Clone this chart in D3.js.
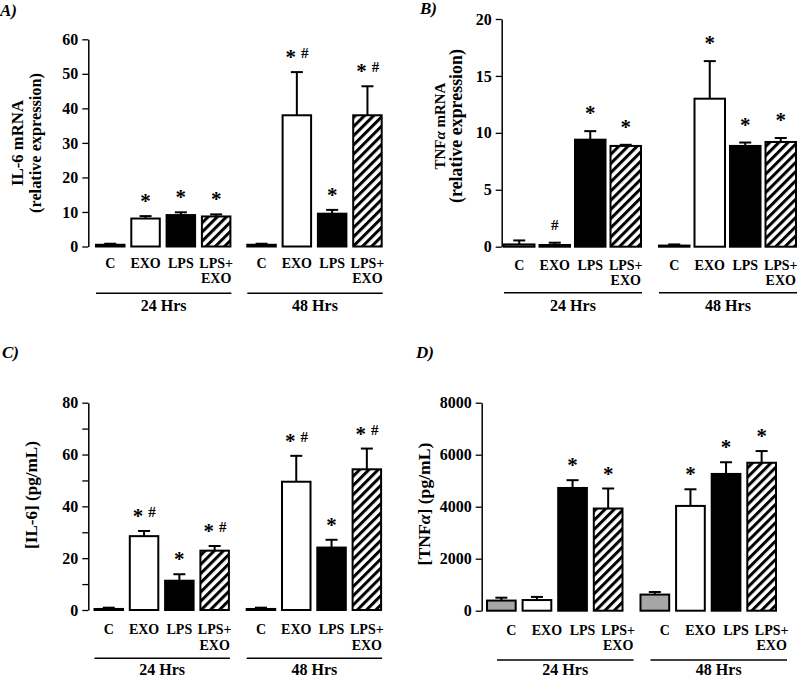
<!DOCTYPE html>
<html>
<head>
<meta charset="utf-8">
<script src="https://cdn.jsdelivr.net/npm/d3@7"></script>
<style>
  html, body { margin: 0; padding: 0; background: #fff; }
  svg { display: block; }
  text { font-family: "Liberation Serif", "Times New Roman", serif; font-weight: bold; fill: #000; }
</style>
</head>
<body>
<svg id="chart" width="800" height="677"></svg>
<script>
// ---------------- data ----------------
const conditions = ["C", "EXO", "LPS", "LPS+EXO"];
const timepoints = ["24 Hrs", "48 Hrs"];

// Panel A: IL-6 mRNA (relative expression)
const il6mRNA      = [0.5, 8.1, 9.1, 8.7, 0.5, 38.0, 9.5, 38.0];
const il6mRNAErr   = [0.3, 0.7, 0.8, 0.6, 0.3, 12.5, 1.1, 8.4];
const il6mRNASig   = ["", "*", "*", "*", "", "* #", "*", "* #"];
const il6mRNATicks = [0, 10, 20, 30, 40, 50, 60];

// Panel B: TNFα mRNA (relative expression)
const tnfmRNA      = [0.2, 0.15, 9.4, 8.85, 0.1, 13.0, 8.85, 9.2];
const tnfmRNAErr   = [0.35, 0.2, 0.75, 0.1, 0.1, 3.3, 0.3, 0.35];
const tnfmRNASig   = ["", "#", "*", "*", "", "*", "*", "*"];
const tnfmRNATicks = [0, 5, 10, 15, 20];

// Panel C: [IL-6] (pg/mL)
const il6Prot      = [0.4, 28.5, 11.3, 22.9, 0.4, 49.5, 24.1, 54.3];
const il6ProtErr   = [0.5, 2.0, 2.5, 1.8, 0.5, 10.0, 3.0, 8.0];
const il6ProtSig   = ["", "* #", "*", "* #", "", "* #", "*", "* #"];
const il6ProtTicks = [0, 10, 20, 30, 40, 50, 60, 70, 80];
const il6ProtTickLabels = ["0", "", "20", "", "40", "", "60", "", "80"];

// Panel D: [TNFα] (pg/mL)
const tnfProt      = [390, 410, 4720, 3930, 620, 4030, 5260, 5690];
const tnfProtErr   = [110, 120, 300, 770, 100, 640, 450, 450];
const tnfProtSig   = ["", "", "*", "*", "", "*", "*", "*"];
const tnfProtTicks = [0, 2000, 4000, 6000, 8000];

// ---------------- layout ----------------
const panels = [
  { label: "A)", labelPos: [0, 16], titleLines: ["IL-6 mRNA", "(relative expression)"], titleX: [22.5, 41], titleCY: 143, titleW: [86, 140],
    values: il6mRNA, errors: il6mRNAErr, sig: il6mRNASig, ticks: il6mRNATicks, tickLabels: null, yMax: 60,
    axisX: 88.3, y0: 246.5, yTop: 39.3, x0: 96, S: 151.3, s: 35.3, w: 28.5, shift: 0,
    catY1: 268, catY2: 283, lineY: 293.3, grpY: 310.5, sigGap: 10 },
  { label: "B)", labelPos: [420, 14], titleLines: ["TNFα mRNA", "(relative expression)"], titleX: [445, 462], titleCY: 126, titleW: [87, 154],
    values: tnfmRNA, errors: tnfmRNAErr, sig: tnfmRNASig, ticks: tnfmRNATicks, tickLabels: null, yMax: 20,
    axisX: 501.7, y0: 246.7, yTop: 19, x0: 504, S: 155, s: 35.5, w: 30.5, shift: 0,
    catY1: 269.5, catY2: 284.5, lineY: 292.7, grpY: 310.5, sigGap: 13 },
  { label: "C)", labelPos: [2, 358], titleLines: ["[IL-6] (pg/mL)"], titleX: [37], titleCY: 495, titleW: [108],
    values: il6Prot, errors: il6ProtErr, sig: il6ProtSig, ticks: il6ProtTicks, tickLabels: il6ProtTickLabels, yMax: 80,
    axisX: 88.3, y0: 610, yTop: 402.7, x0: 94.5, S: 152.2, s: 35.3, w: 28.5, shift: 0,
    catY1: 634, catY2: 649.5, lineY: 658.3, grpY: 674.5, sigGap: 10 },
  { label: "D)", labelPos: [416, 358], titleLines: ["[TNFα] (pg/mL)"], titleX: [430], titleCY: 504, titleW: [123],
    values: tnfProt, errors: tnfProtErr, sig: tnfProtSig, ticks: tnfProtTicks, tickLabels: null, yMax: 8000,
    axisX: 481.7, y0: 610.7, yTop: 402.7, x0: 487, S: 153.5, s: 35.6, w: 28.7, shift: 10,
    catY1: 634.5, catY2: 649.5, lineY: 660, grpY: 674.5, sigGap: 10 }
];

const svg = d3.select("#chart");
const defs = svg.append("defs");
const pat = defs.append("pattern").attr("id", "hatch")
  .attr("patternUnits", "userSpaceOnUse").attr("width", 6.5).attr("height", 6.5)
  .attr("patternTransform", "rotate(45)");
pat.append("rect").attr("width", 6.5).attr("height", 6.5).attr("fill", "#fff");
pat.append("rect").attr("width", 3).attr("height", 6.5).attr("fill", "#000");

const fillFor = { "C": "#a6a6a6", "EXO": "#ffffff", "LPS": "#000000", "LPS+EXO": "url(#hatch)" };

function addRichText(sel, str) {
  const parts = str.split("α");
  parts.forEach((p, i) => {
    if (p) sel.append("tspan").text(p);
    if (i < parts.length - 1) sel.append("tspan").attr("font-style", "italic").text("α");
  });
}

panels.forEach(P => {
  const g = svg.append("g");

  // panel label
  g.append("text").attr("x", P.labelPos[0]).attr("y", P.labelPos[1])
    .attr("font-size", 17).attr("font-style", "italic").text(P.label);

  // y scale + axis
  const y = d3.scaleLinear().domain([0, P.yMax]).range([P.y0, P.yTop]);
  const axis = d3.axisLeft(y).tickValues(P.ticks).tickSize(6).tickSizeOuter(0).tickPadding(4)
    .tickFormat((d, i) => P.tickLabels ? P.tickLabels[i] : d3.format("d")(d));
  const ag = g.append("g").attr("transform", `translate(${P.axisX},0)`).call(axis);
  ag.selectAll("path.domain").attr("stroke", "#000").attr("stroke-width", 1.5);
  ag.selectAll(".tick line").attr("stroke", "#000").attr("stroke-width", 1.3);
  ag.selectAll(".tick text").attr("font-family", "Liberation Serif").attr("font-weight", "bold")
    .attr("font-size", 16).attr("fill", "#000");

  // title (rotated), sized to the reference's length
  P.titleLines.forEach((t, i) => {
    const tx = g.append("text")
      .attr("transform", `translate(${P.titleX[i]},${P.titleCY}) rotate(-90)`)
      .attr("text-anchor", "middle").attr("font-size", 15);
    addRichText(tx, t);
    const len = tx.node().getComputedTextLength();
    if (len > 0) tx.attr("font-size", 15 * P.titleW[i] / len);
  });

  // x scales
  const L = 3 * P.s + P.w;
  const outer = d3.scaleBand().domain(timepoints).range([P.x0, P.x0 + P.S + L])
    .paddingInner(1 - L / P.S).paddingOuter(0);
  const inner = d3.scaleBand().domain(conditions).range([0, L])
    .paddingInner(1 - P.w / P.s).paddingOuter(0);

  const rows = [];
  timepoints.forEach((tp, ti) => conditions.forEach((c, ci) => {
    const k = ti * conditions.length + ci;
    rows.push({ tp, c, v: P.values[k], e: P.errors[k], sig: P.sig[k] });
  }));

  const bx = d => outer(d.tp) + inner(d.c);
  const cx = d => bx(d) + inner.bandwidth() / 2;

  // error bars (behind bars)
  const eg = g.append("g").attr("stroke", "#000").attr("stroke-width", 2);
  eg.selectAll("line.v").data(rows).join("line").attr("class", "v")
    .attr("x1", cx).attr("x2", cx).attr("y1", d => y(d.v)).attr("y2", d => y(d.v + d.e));
  eg.selectAll("line.cap").data(rows).join("line").attr("class", "cap")
    .attr("x1", d => cx(d) - 6).attr("x2", d => cx(d) + 6)
    .attr("y1", d => y(d.v + d.e)).attr("y2", d => y(d.v + d.e));

  // bars
  g.append("g").selectAll("rect").data(rows).join("rect")
    .attr("x", bx).attr("width", inner.bandwidth())
    .attr("y", d => y(d.v)).attr("height", d => Math.max(0.5, P.y0 - y(d.v)))
    .attr("fill", d => fillFor[d.c]).attr("stroke", "#000").attr("stroke-width", 2);

  // significance marks
  rows.forEach(d => {
    if (!d.sig) return;
    const top = y(d.v + d.e);
    const hasStar = d.sig.includes("*"), hasHash = d.sig.includes("#");
    const combo = hasStar && hasHash;
    if (hasStar) {
      g.append("text").attr("x", cx(d) + (combo ? -6 : 0)).attr("y", top - P.sigGap + 2)
        .attr("text-anchor", "middle").attr("font-size", 21).text("*");
    }
    if (hasHash) {
      g.append("text").attr("x", cx(d) + (combo ? 8 : 0)).attr("y", top - P.sigGap - (combo ? 4 : 0))
        .attr("text-anchor", "middle").attr("font-size", 15).text("#");
    }
  });

  // category labels
  rows.forEach(d => {
    const x = cx(d) + P.shift;
    const lines = d.c.includes("+") ? [d.c.slice(0, d.c.indexOf("+") + 1), d.c.slice(d.c.indexOf("+") + 1)] : [d.c];
    lines.forEach((ln, i) => {
      g.append("text").attr("x", x).attr("y", i === 0 ? P.catY1 : P.catY2)
        .attr("text-anchor", "middle").attr("font-size", 14).text(ln);
    });
  });

  // group lines + labels
  timepoints.forEach(tp => {
    const gx0 = outer(tp) + P.shift, gx1 = outer(tp) + L + P.shift + 1;
    g.append("line").attr("x1", gx0).attr("x2", gx1).attr("y1", P.lineY).attr("y2", P.lineY)
      .attr("stroke", "#000").attr("stroke-width", 1.5);
    g.append("text").attr("x", (gx0 + gx1) / 2).attr("y", P.grpY)
      .attr("text-anchor", "middle").attr("font-size", 16).text(tp);
  });
});
</script>
</body>
</html>
